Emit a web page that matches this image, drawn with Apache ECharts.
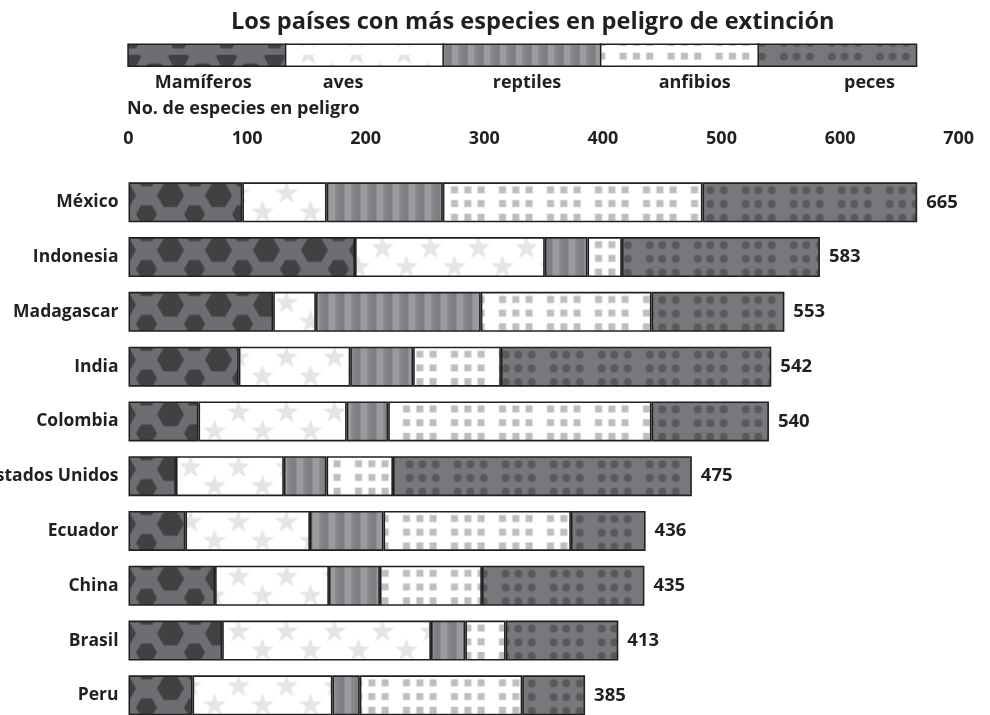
<!DOCTYPE html>
<html><head><meta charset="utf-8">
<script src="https://cdn.jsdelivr.net/npm/echarts@6/dist/echarts.min.js"></script>
<style>html,body{margin:0;padding:0;background:#fff}#c{width:990px;height:715px}</style>
</head><body><div id="c"></div>
<script>
// ---- data ----
const countries = ['México','Indonesia','Madagascar','India','Colombia','Estados Unidos','Ecuador','China','Brasil','Peru'];
const mamiferos = [96,191,122,93,59,40,48,73,79,54];
const aves      = [71,160,36,94,125,91,105,96,176,118];
const reptiles  = [98,36,139,53,35,36,62,43,29,23];
const anfibios  = [219,29,144,74,222,56,158,86,34,137];
const peces     = [181,167,112,228,99,252,63,137,95,53];
const totals    = [665,583,553,542,540,475,436,435,413,385];
const seriesNames = ['Mamíferos','aves','reptiles','anfibios','peces'];
const xTickMin = 0, xTickMax = 700, xTickStep = 100;

// ---- layout ----
const FONT = 'Open Sans';
const INK = '#231f20';
const gridLeft = 128.5, gridTop = 174.9, gridWidth = 830.2, gridHeight = 547.8;
const band = gridHeight / countries.length;
const TILE_H = 55;

function tile(w, h, draw) {
  const c = document.createElement('canvas');
  c.width = w; c.height = h;
  draw(c.getContext('2d'), w, h);
  return c;
}
function hex(g, cx, cy, r) {
  g.beginPath();
  for (let i = 0; i < 6; i++) { const a = Math.PI / 3 * i; g.lineTo(cx + r * Math.cos(a), cy + r * Math.sin(a)); }
  g.closePath(); g.fill();
}
function star(g, cx, cy, R, r) {
  g.beginPath();
  for (let i = 0; i < 10; i++) {
    const a = -Math.PI / 2 + i * Math.PI / 5, rr = i % 2 ? r : R;
    g.lineTo(cx + rr * Math.cos(a), cy + rr * Math.sin(a));
  }
  g.closePath(); g.fill();
}
const bt = (TILE_H - 40) / 2;   // bar top inside a tile
const tiles = [
  tile(48, TILE_H, (g, w, h) => {           // mamíferos: hexagons
    g.fillStyle = '#6d6e71'; g.fillRect(0, 0, w, h);
    g.fillStyle = '#414042';
    [-48, 0, 48].forEach(d => {
      hex(g, 18 + d, bt - 5, 10.5);
      hex(g, 42 + d, bt + 13, 13.5);
      hex(g, 18 + d, bt + 32, 10.5);
    });
  }),
  tile(48, TILE_H, (g, w, h) => {           // aves: stars
    g.fillStyle = '#ffffff'; g.fillRect(0, 0, w, h);
    g.fillStyle = '#e4e5e6';
    [-48, 0, 48].forEach(d => {
      star(g, 38 + d, bt - 8, 12, 4.8);
      star(g, 14 + d, bt + 11, 12, 4.8);
      star(g, 38 + d, bt + 30, 12, 4.8);
    });
  }),
  tile(16, TILE_H, (g, w, h) => {           // reptiles: stripes
    g.fillStyle = '#7d7f82'; g.fillRect(0, 0, w, h);
    g.fillStyle = '#9a9b9e'; g.fillRect(8, 0, 7, h);
    g.fillStyle = '#898a8d'; g.fillRect(0, 0, 2, h);
  }),
  tile(48, TILE_H, (g, w, h) => {           // anfibios: squares
    g.fillStyle = '#ffffff'; g.fillRect(0, 0, w, h);
    g.fillStyle = '#bcbec0';
    [bt + 4, bt + 17.75, bt + 31.5, bt + 45.25, bt - 9.75].forEach(y =>
      [-13.5, -0.2, 13.1, 34.5, 47.8].forEach(x => g.fillRect(x, y, 7, 7)));
  }),
  tile(48, TILE_H, (g, w, h) => {           // peces: dots
    g.fillStyle = '#77787b'; g.fillRect(0, 0, w, h);
    g.fillStyle = '#58595b';
    [bt + 8, bt + 21.75, bt + 35.5, bt + 49.25, bt - 5.75].forEach(y =>
      [-6.8, 5.8, 19.2, 41.2, 53.8].forEach(x => { g.beginPath(); g.arc(x, y, 3.9, 0, Math.PI * 2); g.fill(); }));
  })
];
const patterns = tiles.map(t => ({ image: t, repeat: 'repeat', x: gridLeft, y: gridTop, scaleX: 1, scaleY: band / TILE_H }));
const values = [mamiferos, aves, reptiles, anfibios, peces];

// legend labels, one small legend per label so each sits under its swatch
const labelCenters = [203.3, 343, 527, 694.7, 869.5];
const LBL_W = 120;
const labelLegends = seriesNames.map((name, i) => ({
  data: [name], left: labelCenters[i] - 5 - LBL_W / 2, top: 73, icon: 'rect',
  itemWidth: 0, itemHeight: 20, itemGap: 0, selectedMode: false, padding: 0,
  itemStyle: { color: 'transparent', borderWidth: 0, opacity: 0 },
  formatter: n => '{l|' + n + '}',
  textStyle: { rich: { l: { width: LBL_W, align: 'center', fontFamily: FONT, fontWeight: 'bold', fontSize: 18, color: INK } } }
}));

const series = seriesNames.map((name, i) => ({
  name, type: 'bar', stack: 'total', barWidth: 40,
  data: values[i],
  itemStyle: { color: patterns[i], borderColor: INK, borderWidth: 1.6 },
  emphasis: { disabled: true },
  label: i === seriesNames.length - 1 ? {
    show: true, position: 'right', distance: 9,
    formatter: p => String(totals[p.dataIndex]),
    fontFamily: FONT, fontWeight: 'bold', fontSize: 18.5, color: INK
  } : { show: false }
}));

const chart = echarts.init(document.getElementById('c'), null, { renderer: 'canvas' });
chart.setOption({
  animation: false,
  backgroundColor: '#ffffff',
  title: [
    { text: 'Los países con más especies en peligro de extinción', left: 226, top: 5,
      textStyle: { fontFamily: FONT, fontWeight: 'bold', fontSize: 23.6, color: INK } },
    { text: 'No. de especies en peligro', left: 122, top: 95,
      textStyle: { fontFamily: FONT, fontWeight: 'bold', fontSize: 18, color: INK } }
  ],
  legend: [
    { data: seriesNames, left: 127.3, top: 43.5, orient: 'horizontal', icon: 'rect',
      itemWidth: 158.34, itemHeight: 22, itemGap: -2.3, selectedMode: false,
      formatter: () => '', padding: 0,
      itemStyle: { borderColor: INK, borderWidth: 1.5 } }
  ].concat(labelLegends),
  grid: { left: gridLeft, top: gridTop, width: gridWidth, height: gridHeight, containLabel: false, outerBoundsMode: 'none' },
  xAxis: {
    type: 'value', position: 'top', min: xTickMin, max: xTickMax, interval: xTickStep,
    axisLine: { show: false }, axisTick: { show: false }, splitLine: { show: false },
    axisLabel: { margin: 27, fontFamily: FONT, fontWeight: 'bold', fontSize: 18, color: INK }
  },
  yAxis: {
    type: 'category', data: countries, inverse: true,
    axisLine: { show: false }, axisTick: { show: false }, splitLine: { show: false },
    axisLabel: { margin: 10, fontFamily: FONT, fontWeight: 'bold', fontSize: 17.5, color: INK }
  },
  series
});
</script></body></html>
